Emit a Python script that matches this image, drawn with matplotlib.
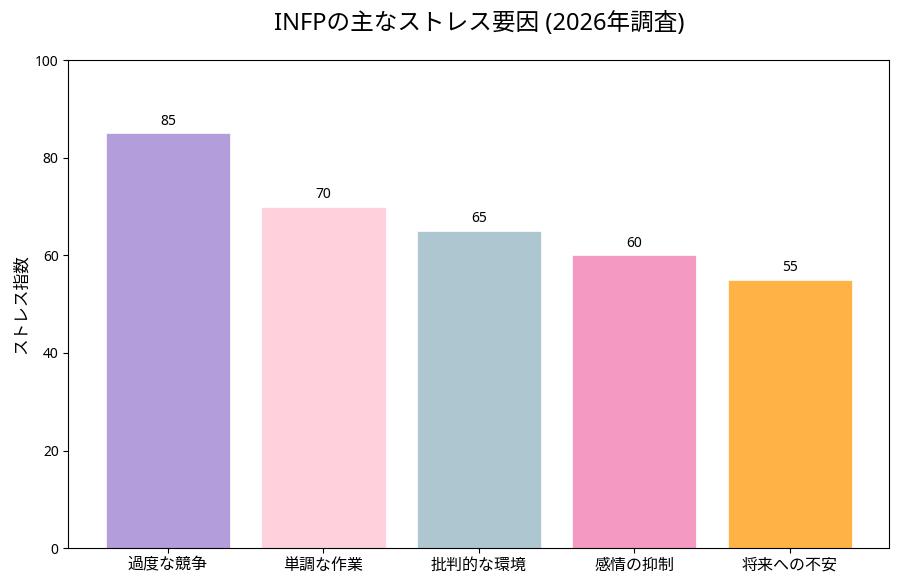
import matplotlib
matplotlib.use("Agg")
import matplotlib.pyplot as plt

plt.rcParams['font.family'] = ['Noto Sans', 'Noto Sans CJK JP', 'DejaVu Sans']

categories = ['過度な競争', '単調な作業', '批判的な環境', '感情の抑制', '将来への不安']
values = [85, 70, 65, 60, 55]
colors = ['#b39ddb', '#ffd1dc', '#aec6cf', '#f49ac2', '#ffb347']

fig, ax = plt.subplots(figsize=(9, 5.85), dpi=100)
fig.subplots_adjust(left=0.076, right=0.988, top=0.897, bottom=0.063)

bars = ax.bar(categories, values, color=colors, edgecolor='white', linewidth=0.5)
for b, v in zip(bars, values):
    ax.text(b.get_x() + b.get_width() / 2, v + 1, str(v), ha='center', va='bottom', fontsize=10)

ax.set_ylim(0, 100)
ax.set_ylabel('ストレス指数', fontsize=12)
ax.set_title('INFPの主なストレス要因 (2026年調査)', fontsize=17, pad=22)
ax.tick_params(axis='x', labelsize=11.5)
ax.tick_params(axis='y', labelsize=10)

fig.savefig('out.png', dpi=100)
